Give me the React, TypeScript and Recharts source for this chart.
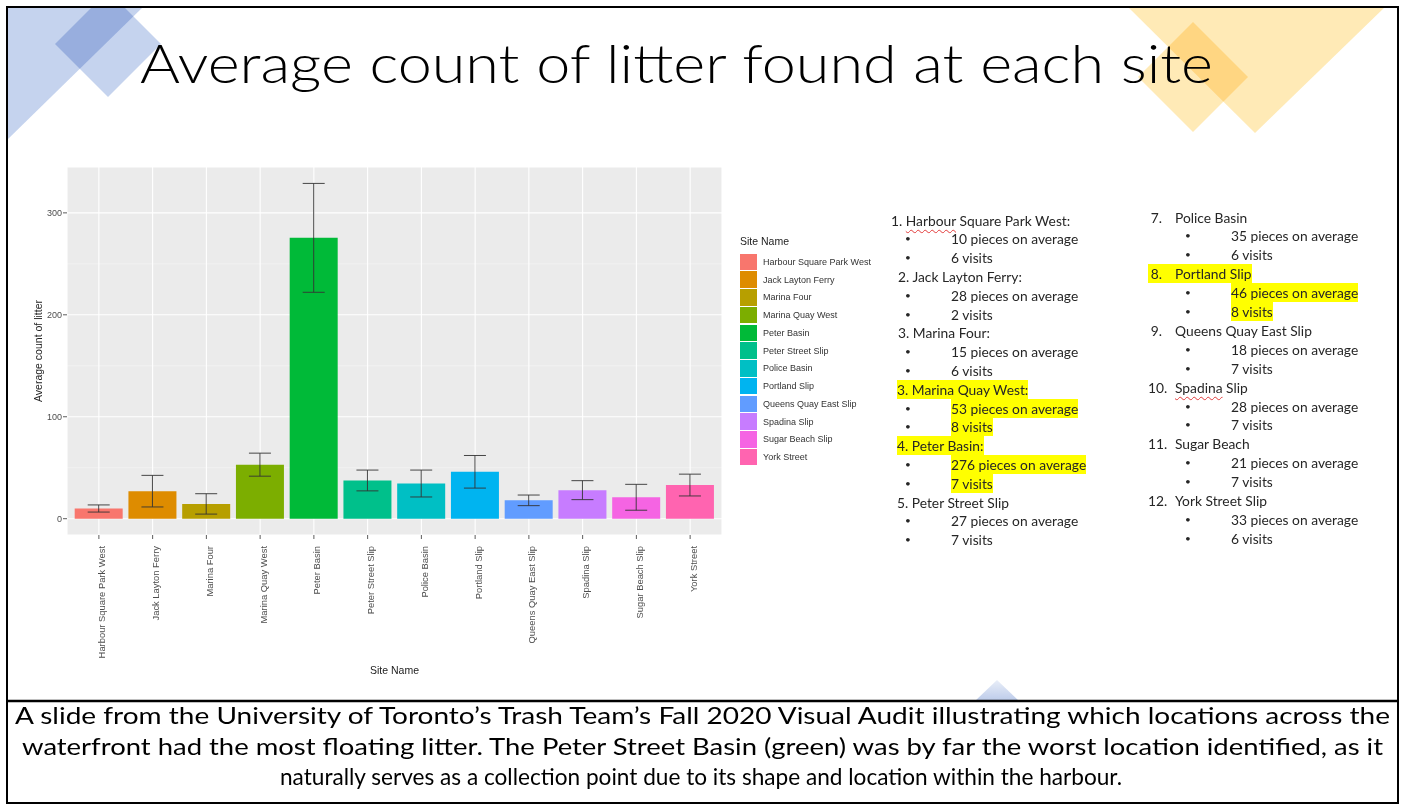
import React from 'react';
import { BarChart, Bar, Cell, XAxis, YAxis, CartesianGrid, ErrorBar } from 'recharts';

// sites in plotting order (ggplot sorts them alphabetically)
const sites = [
  'Harbour Square Park West',
  'Jack Layton Ferry',
  'Marina Four',
  'Marina Quay West',
  'Peter Basin',
  'Peter Street Slip',
  'Police Basin',
  'Portland Slip',
  'Queens Quay East Slip',
  'Spadina Slip',
  'Sugar Beach Slip',
  'York Street',
];
const avgCount = [10, 27, 14.5, 53, 275.5, 37.5, 34.5, 46, 18, 28, 21, 33];
const errHalf = [3.5, 15.5, 10, 11.3, 53.4, 10.2, 13.2, 16, 5.2, 9.3, 12.7, 10.7];
const siteColors = [
  '#F8766D', '#DE8C00', '#B79F00', '#7CAE00', '#00BA38', '#00C08B',
  '#00BFC4', '#00B4F0', '#619CFF', '#C77CFF', '#F564E3', '#FF64B0',
];
const yTicks = [0, 100, 200, 300];
const yMinor = [50, 150, 250];
const yDomain = [-16, 345];

// the notes on the right of the slide
const leftNotes = [
  { head: '1. ', name: 'Harbour', rest: ' Square Park West:', avg: 10, visits: 6, hl: false, x: 891 },
  { head: '2. ', name: '', rest: 'Jack Layton Ferry:', avg: 28, visits: 2, hl: false, x: 898 },
  { head: '3. ', name: '', rest: 'Marina Four:', avg: 15, visits: 6, hl: false, x: 898 },
  { head: '3. ', name: '', rest: 'Marina Quay West:', avg: 53, visits: 8, hl: true, x: 897 },
  { head: '4. ', name: '', rest: 'Peter Basin:', avg: 276, visits: 7, hl: true, x: 897 },
  { head: '5. ', name: '', rest: 'Peter Street Slip', avg: 27, visits: 7, hl: false, x: 897 },
];
const rightNotes = [
  { num: '7.', name: '', rest: 'Police Basin', avg: 35, visits: 6, hl: false },
  { num: '8.', name: '', rest: 'Portland Slip', avg: 46, visits: 8, hl: true },
  { num: '9.', name: '', rest: 'Queens Quay East Slip', avg: 18, visits: 7, hl: false },
  { num: '10.', name: 'Spadina', rest: ' Slip', avg: 28, visits: 7, hl: false },
  { num: '11.', name: '', rest: 'Sugar Beach', avg: 21, visits: 7, hl: false },
  { num: '12.', name: '', rest: 'York Street Slip', avg: 33, visits: 6, hl: false },
];

const captionLines = [
  'A slide from the University of Toronto\u2019s Trash Team\u2019s Fall 2020 Visual Audit illustrating which locations across the',
  'waterfront had the most floating litter. The Peter Street Basin (green) was by far the worst location identified, as it',
  'naturally serves as a collection point due to its shape and location within the harbour.',
];

const data = sites.map((s, i) => ({ site: s, avg: avgCount[i], err: errHalf[i] }));

const gg = 'Liberation Sans, Arial, Helvetica, sans-serif';
const office = 'Lato, Carlito, Calibri, sans-serif';

const XTick = (props: any) => {
  const { x, y, payload } = props;
  return (
    <text
      transform={`translate(${x + 3},${y + 5}) rotate(-90)`}
      textAnchor="end"
      dominantBaseline="central"
      fontSize={9.4}
      fill="#4D4D4D"
      fontFamily={gg}
    >
      {payload.value}
    </text>
  );
};

const XTitle = (props: any) => {
  const vb = props.viewBox;
  return (
    <text x={vb.x + vb.width / 2} y={674} textAnchor="middle" fontSize={10.5} fill="#222" fontFamily={gg}>
      Site Name
    </text>
  );
};

const YTitle = (props: any) => {
  const vb = props.viewBox;
  const cy = vb.y + vb.height / 2;
  return (
    <text
      transform={`translate(42,${cy}) rotate(-90)`}
      textAnchor="middle"
      fontSize={10.5}
      fill="#222"
      fontFamily={gg}
    >
      Average count of litter
    </text>
  );
};

const wavy: React.CSSProperties = {
  textDecoration: 'underline wavy #E23B3B',
  textDecorationThickness: '1px',
  textUnderlineOffset: '3px',
};

const LH = 19;

const lineStyle = (left: number, cy: number): React.CSSProperties => ({
  position: 'absolute',
  left,
  top: cy - LH / 2,
  height: LH,
  lineHeight: `${LH}px`,
  fontSize: 13.8,
  fontFamily: office,
  color: '#262626',
  whiteSpace: 'nowrap',
});

const hlBg = (on: boolean): React.CSSProperties =>
  on ? { background: '#FFFF00', display: 'inline-block', height: LH } : { display: 'inline-block', height: LH };

const bullet: React.CSSProperties = { fontSize: 10 };

export default function App() {
  const leftLines: React.ReactNode[] = [];
  leftNotes.forEach((n, i) => {
    const base = 220 + i * 3 * 18.8;
    leftLines.push(
      <div key={`lh${i}`} style={lineStyle(n.x, base)}>
        <span style={hlBg(n.hl)}>
          {n.head}
          {n.name && <span style={wavy}>{n.name}</span>}
          {n.rest}
        </span>
      </div>
    );
    [`${n.avg} pieces on average`, `${n.visits} visits`].forEach((t, k) => {
      const cy = base + (k + 1) * 18.8;
      leftLines.push(
        <div key={`lb${i}${k}`} style={{ ...lineStyle(905, cy), ...bullet }}>•</div>,
        <div key={`lt${i}${k}`} style={lineStyle(951, cy)}>
          <span style={hlBg(n.hl)}>{t}</span>
        </div>
      );
    });
  });

  const rightLines: React.ReactNode[] = [];
  rightNotes.forEach((n, i) => {
    const base = 217 + i * 3 * 18.9;
    rightLines.push(
      <div key={`rh${i}`} style={lineStyle(1148, base)}>
        <span style={{ ...hlBg(n.hl), paddingRight: n.hl ? 1 : 0 }}>
          <span style={{ display: 'inline-block', width: 14, textAlign: 'right' }}>{n.num}</span>
          <span style={{ display: 'inline-block', width: 13 }} />
          {n.name && <span style={wavy}>{n.name}</span>}
          {n.rest}
        </span>
      </div>
    );
    [`${n.avg} pieces on average`, `${n.visits} visits`].forEach((t, k) => {
      const cy = base + (k + 1) * 18.9;
      rightLines.push(
        <div key={`rb${i}${k}`} style={{ ...lineStyle(1185, cy), ...bullet }}>•</div>,
        <div key={`rt${i}${k}`} style={lineStyle(1231, cy)}>
          <span style={hlBg(n.hl)}>{t}</span>
        </div>
      );
    });
  });

  return (
    <div style={{ position: 'absolute', left: 0, top: 0, width: 1403, height: 805, background: '#fff', overflow: 'hidden' }}>
      {/* slide decorations, title, frame and caption */}
      <svg width={1403} height={805} style={{ position: 'absolute', left: 0, top: 0 }}>
        <defs>
          <clipPath id="slideClip">
            <rect x={7} y={7} width={1391} height={694} />
          </clipPath>
          <linearGradient id="fadeBlue" x1="0" y1="1" x2="0" y2="0">
            <stop offset="0%" stopColor="#BCCBEA" />
            <stop offset="100%" stopColor="#E9EEF8" />
          </linearGradient>
        </defs>
        <g clipPath="url(#slideClip)">
          <polygon points="7,7 143,7 7,140" fill="#C5D3EE" />
          <polygon points="55,44 108,-9 161,44 108,97" fill="#C5D3EE" style={{ mixBlendMode: 'multiply' }} />
          <polygon points="1128,7 1385,7 1255,133" fill="#FFEAB6" />
          <polygon points="1138,77 1193,22 1248,77 1193,132" fill="#FFEAB6" style={{ mixBlendMode: 'multiply' }} />
          <polygon points="975,701 997,680 1019,701" fill="url(#fadeBlue)" />
        </g>
        <text x={140} y={83} fontSize={54} fontWeight={300} fontFamily={office} fill="#000" textLength={1073} lengthAdjust="spacingAndGlyphs">
          Average count of litter found at each site
        </text>
        <rect x={7} y={7} width={1391} height={796} fill="none" stroke="#000" strokeWidth={2} />
        <line x1={7} x2={1398} y1={701} y2={701} stroke="#000" strokeWidth={2.5} />
        <text x={15} y={724} fontSize={23} fontFamily={office} fill="#000" textLength={1375} lengthAdjust="spacingAndGlyphs">
          {captionLines[0]}
        </text>
        <text x={22} y={754.5} fontSize={23} fontFamily={office} fill="#000" textLength={1361} lengthAdjust="spacingAndGlyphs">
          {captionLines[1]}
        </text>
        <text x={280} y={785} fontSize={23} fontFamily={office} fill="#000" textLength={842} lengthAdjust="spacingAndGlyphs">
          {captionLines[2]}
        </text>
      </svg>

      {/* ggplot style bar chart */}
      <div style={{ position: 'absolute', left: 0, top: 0 }}>
        <BarChart width={740} height={700} data={data} margin={{ top: 167, right: 18, bottom: 0, left: 0 }} barCategoryGap="5%">
          <CartesianGrid fill="#EBEBEB" stroke="#F7F7F7" strokeWidth={0.6} vertical={false} horizontalValues={yMinor} />
          <CartesianGrid stroke="#FFFFFF" strokeWidth={1.1} />
          <XAxis
            dataKey="site"
            interval={0}
            height={165}
            axisLine={false}
            tickSize={4}
            tickLine={{ stroke: '#333', strokeWidth: 0.8 }}
            padding={{ left: 5, right: 5 }}
            tick={<XTick />}
            label={<XTitle />}
          />
          <YAxis
            type="number"
            width={67}
            domain={yDomain}
            allowDataOverflow
            ticks={yTicks}
            axisLine={false}
            tickSize={4}
            tickMargin={1}
            tickLine={{ stroke: '#333', strokeWidth: 0.8 }}
            tick={{ fontSize: 9, fill: '#4D4D4D', fontFamily: gg }}
            label={<YTitle />}
          />
          <Bar dataKey="avg" isAnimationActive={false}>
            {data.map((d, i) => (
              <Cell key={d.site} fill={siteColors[i]} />
            ))}
            <ErrorBar dataKey="err" direction="y" width={11} stroke="#333" strokeWidth={0.9} isAnimationActive={false} />
          </Bar>
        </BarChart>
      </div>

      {/* legend */}
      <div style={{ position: 'absolute', left: 740, top: 233, fontFamily: gg, fontSize: 10.5, color: '#222', lineHeight: '16px' }}>
        Site Name
      </div>
      {sites.map((s, i) => (
        <div key={s} style={{ position: 'absolute', left: 740, top: 253 + i * 17.75, height: 17.75, display: 'flex', alignItems: 'center' }}>
          <div style={{ width: 17, height: 16.5, background: siteColors[i] }} />
          <div style={{ marginLeft: 6, fontFamily: gg, fontSize: 9, color: '#333', whiteSpace: 'nowrap' }}>{s}</div>
        </div>
      ))}

      {leftLines}
      {rightLines}
    </div>
  );
}
